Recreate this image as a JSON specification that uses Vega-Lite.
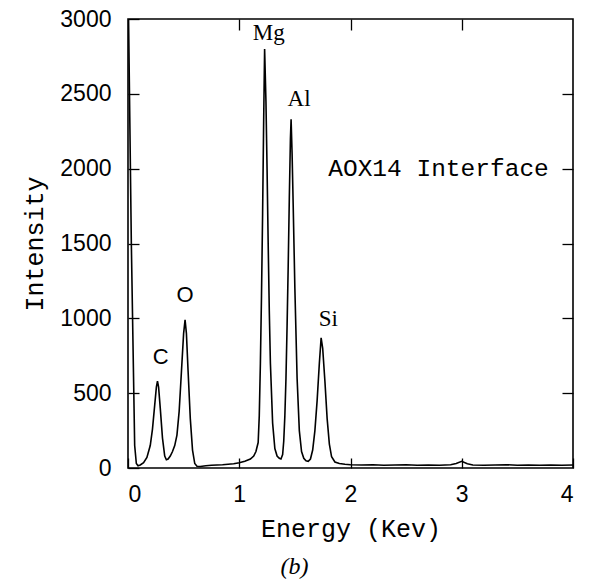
{
  "$schema": "https://vega.github.io/schema/vega-lite/v6.json",
  "width": 445,
  "height": 449,
  "autosize": {"type": "none"},
  "padding": {"left": 128, "top": 19, "right": 17, "bottom": 117},
  "background": "white",
  "title": {"text": "(b)", "orient": "bottom", "anchor": "middle", "dx": -56, "font": "Liberation Serif", "fontStyle": "italic", "fontWeight": "normal", "fontSize": 24, "color": "black", "offset": 14},
  "config": {
    "view": {"stroke": "black", "strokeWidth": 1.6},
    "axis": {"grid": false, "domain": false, "tickColor": "black", "tickWidth": 1.3, "labelColor": "black", "titleColor": "black", "labelFont": "Liberation Sans", "labelFontSize": 23, "titleFont": "Liberation Mono", "titleFontSize": 25, "titleFontWeight": "normal"}
  },
  "datasets": {
    "spectrum": [
      {"energy": 0.005, "intensity": 3000},
      {"energy": 0.03, "intensity": 1500},
      {"energy": 0.06, "intensity": 150},
      {"energy": 0.075, "intensity": 30},
      {"energy": 0.09, "intensity": 15},
      {"energy": 0.11, "intensity": 20},
      {"energy": 0.14, "intensity": 35},
      {"energy": 0.17, "intensity": 70},
      {"energy": 0.20, "intensity": 150},
      {"energy": 0.22, "intensity": 260},
      {"energy": 0.24, "intensity": 420},
      {"energy": 0.255, "intensity": 540},
      {"energy": 0.265, "intensity": 580},
      {"energy": 0.275, "intensity": 540},
      {"energy": 0.29, "intensity": 400},
      {"energy": 0.31, "intensity": 200},
      {"energy": 0.33, "intensity": 80},
      {"energy": 0.345, "intensity": 55},
      {"energy": 0.36, "intensity": 60},
      {"energy": 0.38, "intensity": 80},
      {"energy": 0.40, "intensity": 110},
      {"energy": 0.42, "intensity": 150},
      {"energy": 0.44, "intensity": 220},
      {"energy": 0.46, "intensity": 380},
      {"energy": 0.48, "intensity": 640},
      {"energy": 0.50, "intensity": 900},
      {"energy": 0.513, "intensity": 990},
      {"energy": 0.525, "intensity": 900},
      {"energy": 0.54, "intensity": 650},
      {"energy": 0.56, "intensity": 330},
      {"energy": 0.58, "intensity": 120},
      {"energy": 0.60, "intensity": 30},
      {"energy": 0.62, "intensity": 12},
      {"energy": 0.65, "intensity": 10},
      {"energy": 0.70, "intensity": 15},
      {"energy": 0.75, "intensity": 18},
      {"energy": 0.80, "intensity": 20},
      {"energy": 0.85, "intensity": 22},
      {"energy": 0.90, "intensity": 25},
      {"energy": 0.95, "intensity": 28},
      {"energy": 1.00, "intensity": 35},
      {"energy": 1.05, "intensity": 45},
      {"energy": 1.10, "intensity": 60},
      {"energy": 1.13, "intensity": 80},
      {"energy": 1.15, "intensity": 110},
      {"energy": 1.17, "intensity": 170},
      {"energy": 1.18, "intensity": 350},
      {"energy": 1.19, "intensity": 700},
      {"energy": 1.20, "intensity": 1150},
      {"energy": 1.21, "intensity": 1700},
      {"energy": 1.22, "intensity": 2350},
      {"energy": 1.228, "intensity": 2800},
      {"energy": 1.24, "intensity": 2450},
      {"energy": 1.25, "intensity": 2000},
      {"energy": 1.26, "intensity": 1500},
      {"energy": 1.27, "intensity": 1050},
      {"energy": 1.28, "intensity": 700},
      {"energy": 1.30, "intensity": 300},
      {"energy": 1.32, "intensity": 130},
      {"energy": 1.34, "intensity": 80},
      {"energy": 1.36, "intensity": 65},
      {"energy": 1.375, "intensity": 60},
      {"energy": 1.39, "intensity": 90},
      {"energy": 1.40, "intensity": 180},
      {"energy": 1.41, "intensity": 350},
      {"energy": 1.42, "intensity": 600},
      {"energy": 1.43, "intensity": 950},
      {"energy": 1.44, "intensity": 1350},
      {"energy": 1.45, "intensity": 1800},
      {"energy": 1.46, "intensity": 2200},
      {"energy": 1.466, "intensity": 2330},
      {"energy": 1.475, "intensity": 2100},
      {"energy": 1.485, "intensity": 1750},
      {"energy": 1.50, "intensity": 1200},
      {"energy": 1.52, "intensity": 600},
      {"energy": 1.54, "intensity": 250},
      {"energy": 1.56, "intensity": 110},
      {"energy": 1.58, "intensity": 65},
      {"energy": 1.60, "intensity": 48},
      {"energy": 1.62, "intensity": 45},
      {"energy": 1.64, "intensity": 60},
      {"energy": 1.66, "intensity": 120},
      {"energy": 1.68, "intensity": 250},
      {"energy": 1.70, "intensity": 450},
      {"energy": 1.72, "intensity": 700},
      {"energy": 1.736, "intensity": 870},
      {"energy": 1.75, "intensity": 800},
      {"energy": 1.77, "intensity": 580},
      {"energy": 1.79, "intensity": 330},
      {"energy": 1.81, "intensity": 160},
      {"energy": 1.83, "intensity": 75},
      {"energy": 1.86, "intensity": 40},
      {"energy": 1.90, "intensity": 30},
      {"energy": 1.95, "intensity": 25},
      {"energy": 2.0, "intensity": 22},
      {"energy": 2.1, "intensity": 20},
      {"energy": 2.2, "intensity": 22},
      {"energy": 2.3, "intensity": 18},
      {"energy": 2.4, "intensity": 20},
      {"energy": 2.5, "intensity": 22},
      {"energy": 2.6, "intensity": 18},
      {"energy": 2.7, "intensity": 20},
      {"energy": 2.8, "intensity": 18},
      {"energy": 2.9, "intensity": 22},
      {"energy": 2.95, "intensity": 30},
      {"energy": 3.0, "intensity": 45},
      {"energy": 3.05, "intensity": 28},
      {"energy": 3.1, "intensity": 20},
      {"energy": 3.2, "intensity": 18},
      {"energy": 3.3, "intensity": 20},
      {"energy": 3.4, "intensity": 22},
      {"energy": 3.5, "intensity": 18},
      {"energy": 3.6, "intensity": 20},
      {"energy": 3.7, "intensity": 18},
      {"energy": 3.8, "intensity": 20},
      {"energy": 3.9, "intensity": 18},
      {"energy": 4.0, "intensity": 20}
    ],
    "serifLabels": [
      {"energy": 1.266, "intensity": 2906, "label": "Mg"},
      {"energy": 1.538, "intensity": 2465, "label": "Al"},
      {"energy": 1.80, "intensity": 995, "label": "Si"}
    ],
    "sansLabels": [
      {"energy": 0.293, "intensity": 742, "label": "C"},
      {"energy": 0.514, "intensity": 1153, "label": "O"}
    ],
    "monoLabels": [
      {"energy": 1.80, "intensity": 1998, "label": "AOX14 Interface"}
    ]
  },
  "layer": [
    {
      "data": {"name": "spectrum"},
      "mark": {"type": "line", "color": "black", "strokeWidth": 1.6, "clip": true},
      "encoding": {
        "x": {"field": "energy", "type": "quantitative", "scale": {"domain": [0, 4], "nice": false},
              "axis": {"orient": "bottom", "values": [0, 1, 2, 3, 4], "tickSize": -10, "labelPadding": 25, "title": "Energy (Kev)", "titlePadding": 10, "format": "d"}},
        "y": {"field": "intensity", "type": "quantitative", "scale": {"domain": [0, 3000], "nice": false},
              "axis": {"orient": "left", "values": [0, 500, 1000, 1500, 2000, 2500, 3000], "tickSize": -11, "labelPadding": 28, "title": "Intensity", "titlePadding": 12, "format": "d"}}
      }
    },
    {
      "data": {"name": "spectrum"},
      "mark": {"type": "line", "opacity": 0},
      "encoding": {
        "x": {"field": "energy", "type": "quantitative",
              "axis": {"orient": "top", "values": [1, 2, 3], "tickSize": -11, "labels": false, "title": null}},
        "y": {"field": "intensity", "type": "quantitative",
              "axis": {"orient": "right", "values": [500, 1000, 1500, 2000, 2500], "tickSize": -11, "labels": false, "title": null}}
      }
    },
    {
      "data": {"name": "serifLabels"},
      "mark": {"type": "text", "font": "Liberation Serif", "fontSize": 23, "align": "center", "baseline": "middle", "color": "black"},
      "encoding": {
        "x": {"field": "energy", "type": "quantitative", "axis": null},
        "y": {"field": "intensity", "type": "quantitative", "axis": null},
        "text": {"field": "label"}
      }
    },
    {
      "data": {"name": "sansLabels"},
      "mark": {"type": "text", "font": "Liberation Sans", "fontSize": 22, "align": "center", "baseline": "middle", "color": "black"},
      "encoding": {
        "x": {"field": "energy", "type": "quantitative", "axis": null},
        "y": {"field": "intensity", "type": "quantitative", "axis": null},
        "text": {"field": "label"}
      }
    },
    {
      "data": {"name": "monoLabels"},
      "mark": {"type": "text", "font": "Liberation Mono", "fontSize": 24.5, "align": "left", "baseline": "middle", "color": "black"},
      "encoding": {
        "x": {"field": "energy", "type": "quantitative", "axis": null},
        "y": {"field": "intensity", "type": "quantitative", "axis": null},
        "text": {"field": "label"}
      }
    }
  ],
  "resolve": {"axis": {"x": "independent", "y": "independent"}}
}
